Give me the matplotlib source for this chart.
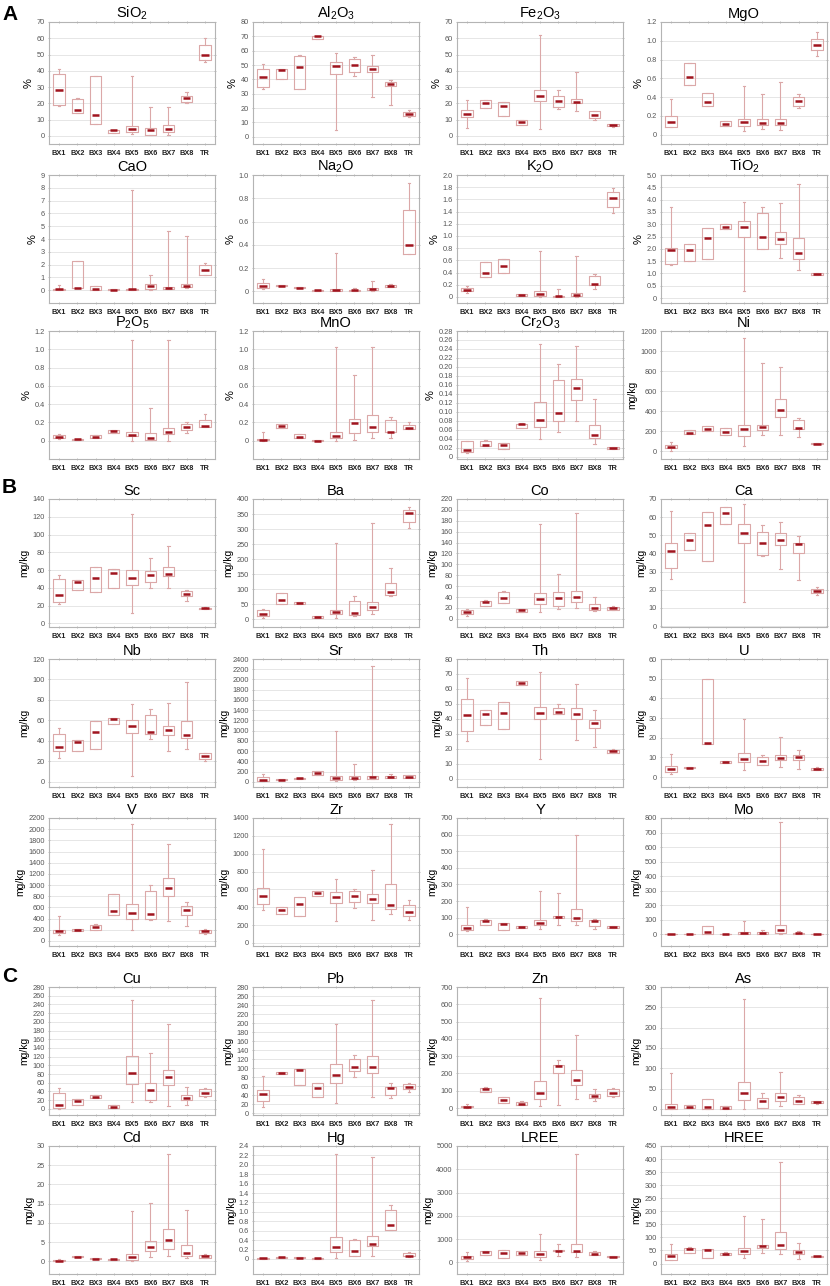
import matplotlib
matplotlib.use("Agg")
import matplotlib.pyplot as plt
import numpy as np
from matplotlib.ticker import FixedLocator, FuncFormatter

plt.rcParams['font.family'] = ['Liberation Sans', 'DejaVu Sans']
plt.rcParams['mathtext.fontset'] = 'custom'
plt.rcParams['mathtext.rm'] = 'Liberation Sans'
plt.rcParams['mathtext.it'] = 'Liberation Sans'

categories = ["BX1", "BX2", "BX3", "BX4", "BX5", "BX6", "BX7", "BX8", "TR"]

# each row: [whislo, q1, median, q3, whishi] per category
SiO2 = [[18.5, 19, 28.5, 38, 41], [14, 14, 16, 22.5, 23], [7, 7, 13, 37, 37], [1.5, 1.5, 3.5, 3.5, 3.5],
        [1, 2.5, 4.5, 6, 37], [0.5, 0.5, 3.5, 5, 17.5], [0.5, 2.5, 4.5, 6.5, 17.5], [20, 21, 23.5, 24.5, 27],
        [45.5, 46.5, 49.5, 56, 60]]
Al2O3 = [[33, 35, 41.5, 47.5, 51], [40, 40, 46.5, 47, 47], [33.5, 33.5, 48.5, 56.5, 57], [68.5, 68.5, 70, 70.5, 70.5],
         [5, 44, 49, 52, 58.5], [42.5, 45.5, 50, 54, 55.5], [27.5, 45, 47, 49.5, 57], [22, 35.5, 37, 38, 39.5],
         [14, 14.5, 16, 17.5, 18.5]]
Fe2O3 = [[5, 11.5, 13.5, 16, 22], [17, 17, 20.5, 22, 22], [12, 12, 18.5, 21, 21], [6.5, 6.5, 8.5, 9.5, 9.5],
         [4, 21.5, 24.5, 28.5, 62], [16.5, 18, 21.5, 24.5, 28.5], [15, 20, 21, 22.5, 39.5], [9.5, 11, 13, 15.5, 15.5],
         [5.5, 5.8, 6.5, 7, 7.5]]
MgO = [[0.08, 0.08, 0.13, 0.2, 0.38], [0.53, 0.53, 0.61, 0.76, 0.76], [0.3, 0.3, 0.35, 0.44, 0.44],
       [0.09, 0.09, 0.11, 0.15, 0.15], [0.04, 0.09, 0.13, 0.17, 0.52], [0.06, 0.1, 0.12, 0.17, 0.43],
       [0.05, 0.1, 0.12, 0.17, 0.56], [0.28, 0.3, 0.36, 0.4, 0.43], [0.84, 0.9, 0.96, 1.02, 1.09]]
CaO = [[0.05, 0.05, 0.08, 0.12, 0.4], [0.15, 0.15, 0.2, 2.25, 2.25], [0.05, 0.05, 0.1, 0.35, 0.35],
       [0.03, 0.03, 0.05, 0.08, 0.08], [0.05, 0.05, 0.1, 0.12, 7.8], [0.05, 0.1, 0.35, 0.5, 1.2],
       [0.1, 0.12, 0.18, 0.25, 4.65], [0.2, 0.25, 0.35, 0.5, 4.2], [1.15, 1.2, 1.6, 1.95, 2.15]]
Na2O = [[0.02, 0.03, 0.05, 0.07, 0.11], [0.045, 0.045, 0.05, 0.055, 0.055], [0.025, 0.025, 0.03, 0.04, 0.04],
        [0.005, 0.005, 0.008, 0.012, 0.012], [0.0, 0.005, 0.01, 0.02, 0.33], [0.003, 0.005, 0.008, 0.01, 0.03],
        [0.005, 0.01, 0.02, 0.03, 0.09], [0.04, 0.04, 0.05, 0.055, 0.06], [0.32, 0.32, 0.4, 0.7, 0.93]]
K2O = [[0.07, 0.1, 0.12, 0.14, 0.18], [0.32, 0.32, 0.4, 0.58, 0.58], [0.39, 0.39, 0.5, 0.62, 0.62],
       [0.01, 0.01, 0.03, 0.05, 0.05], [0.0, 0.01, 0.04, 0.09, 0.76], [0.0, 0.0, 0.01, 0.02, 0.13],
       [0.0, 0.01, 0.03, 0.07, 0.67], [0.13, 0.2, 0.21, 0.35, 0.38], [1.38, 1.47, 1.62, 1.72, 1.78]]
TiO2 = [[1.33, 1.4, 1.95, 2.02, 3.68], [1.52, 1.52, 1.95, 2.2, 2.2], [1.6, 1.6, 2.45, 2.85, 2.85],
        [2.8, 2.8, 2.9, 3.0, 3.0], [0.28, 2.47, 2.88, 3.15, 3.9], [1.98, 2.0, 2.47, 3.45, 3.7],
        [1.63, 2.2, 2.4, 2.7, 3.87], [1.15, 1.57, 1.85, 2.45, 4.65], [0.95, 0.95, 0.98, 1.02, 1.03]]
P2O5 = [[0.02, 0.025, 0.04, 0.06, 0.07], [0.01, 0.01, 0.015, 0.02, 0.02], [0.03, 0.03, 0.045, 0.06, 0.06],
        [0.08, 0.08, 0.11, 0.12, 0.12], [0.0, 0.05, 0.06, 0.09, 1.1], [0.01, 0.01, 0.03, 0.08, 0.36],
        [0.0, 0.07, 0.09, 0.14, 1.1], [0.08, 0.12, 0.15, 0.18, 0.2], [0.15, 0.15, 0.16, 0.23, 0.29]]
MnO = [[0.0, 0.005, 0.01, 0.02, 0.09], [0.14, 0.14, 0.16, 0.18, 0.18], [0.03, 0.03, 0.045, 0.07, 0.07],
       [-0.005, -0.005, 0.0, 0.005, 0.005], [0.0, 0.03, 0.05, 0.1, 1.03], [0.01, 0.08, 0.19, 0.24, 0.72],
       [0.03, 0.1, 0.15, 0.28, 1.02], [0.03, 0.09, 0.1, 0.23, 0.26], [0.13, 0.13, 0.14, 0.17, 0.2]]
Cr2O3 = [[0.008, 0.01, 0.014, 0.034, 0.035], [0.025, 0.025, 0.027, 0.036, 0.038], [0.017, 0.017, 0.026, 0.03, 0.03],
         [0.065, 0.065, 0.073, 0.074, 0.075], [0.04, 0.067, 0.081, 0.122, 0.252], [0.055, 0.08, 0.097, 0.17, 0.206],
         [0.079, 0.126, 0.152, 0.174, 0.246], [0.028, 0.042, 0.048, 0.07, 0.128], [0.017, 0.018, 0.019, 0.021, 0.022]]
Ni = [[5, 30, 45, 60, 95], [175, 175, 185, 210, 210], [200, 200, 220, 255, 255], [160, 160, 190, 230, 230],
      [50, 150, 220, 265, 1130], [160, 210, 245, 265, 880], [160, 340, 410, 520, 840], [145, 220, 235, 310, 330],
      [70, 70, 75, 85, 85]]
Sc = [[22, 24, 32, 50, 54], [38, 38, 47, 49, 49], [35, 35, 51, 63, 63], [40, 40, 57, 61, 61],
      [12, 43, 51, 60, 123], [40, 47, 55, 59, 74], [40, 53, 56, 63, 87], [25, 31, 33, 36, 38],
      [16, 16.5, 17, 17.5, 18]]
Ba = [[5, 10, 18, 30, 35], [50, 50, 63, 87, 87], [50, 50, 55, 58, 58], [6, 6, 8, 10, 10],
      [5, 18, 25, 33, 253], [12, 15, 22, 60, 77], [17, 30, 43, 57, 320], [78, 80, 92, 120, 170],
      [303, 325, 353, 365, 375]]
Co = [[5, 8, 12, 16, 18], [23, 23, 31, 33, 34], [29, 29, 39, 50, 52], [13, 13, 16, 18, 18],
      [12, 27, 36, 47, 175], [18, 23, 38, 50, 82], [20, 30, 40, 51, 195], [14, 16, 20, 27, 40],
      [16, 17, 19, 21, 23]]
Ca = [[26, 32, 41.5, 45.5, 63.5], [42, 42, 47.5, 51.5, 51.5], [36, 36, 55.5, 63, 63], [56, 56, 62.5, 65.5, 65.5],
      [13.5, 45.5, 51, 56.5, 67], [38.5, 39, 45.5, 52, 55.5], [31.5, 44.5, 47.5, 51, 57.5], [25.5, 40, 45, 45.5, 49.5],
      [17, 18, 19.5, 20.5, 21.5]]
Nb = [[23, 30, 34, 47, 53], [30, 30, 38.5, 40.5, 41], [32, 32, 49, 59.5, 59.5], [57, 57, 61, 62, 62],
      [6, 48, 55, 60, 76], [42, 47, 48.5, 65, 71], [30, 46, 50.5, 55, 77], [32, 42.5, 46, 59, 98],
      [20, 22, 25, 28, 28]]
Sr = [[15, 20, 45, 95, 145], [35, 35, 40, 50, 50], [55, 55, 70, 85, 85], [130, 130, 175, 205, 210],
      [10, 45, 85, 115, 1000], [30, 50, 70, 110, 350], [55, 60, 90, 115, 2270], [70, 75, 95, 120, 145],
      [80, 85, 105, 125, 140]]
Th = [[25.5, 32, 42.5, 53, 67], [36, 36, 43, 46, 46], [33, 33, 44, 51.5, 51.5], [62.5, 62.5, 64, 65.5, 65.5],
      [13, 40, 44, 48, 71], [43, 43, 44.5, 47.5, 50], [26, 40, 43.5, 47, 63], [21, 34, 37, 39, 46],
      [17.5, 17.5, 18.5, 19.5, 20]]
U = [[1.5, 2.5, 4, 5.5, 12], [4.5, 4.5, 4.8, 5, 5], [17, 17, 17.5, 50, 50], [7.3, 7.3, 7.7, 8, 8],
     [3.5, 7.5, 9, 12.5, 29.5], [6, 6, 8, 10, 11.5], [5, 8.5, 9.5, 11, 20.5], [4, 8.5, 10, 11.5, 14],
     [3.8, 3.8, 4, 4.5, 5]]
V = [[100, 140, 170, 200, 440], [185, 185, 200, 220, 220], [190, 190, 250, 290, 300], [470, 470, 540, 840, 840],
     [200, 400, 500, 660, 2100], [380, 400, 480, 890, 1010], [360, 800, 950, 1130, 1740], [270, 470, 550, 620, 690],
     [130, 140, 170, 200, 210]]
Zr = [[370, 440, 530, 620, 1050], [320, 320, 370, 400, 400], [305, 305, 440, 515, 515], [530, 530, 560, 580, 580],
      [250, 450, 515, 565, 720], [395, 460, 530, 585, 605], [260, 445, 495, 550, 815], [320, 385, 420, 665, 1330],
      [255, 300, 350, 420, 480]]
Y = [[18, 25, 38, 58, 163], [55, 55, 78, 88, 90], [25, 25, 60, 68, 70], [40, 40, 45, 50, 50],
     [30, 55, 70, 88, 258], [55, 100, 105, 110, 250], [55, 78, 100, 155, 600], [30, 50, 78, 85, 95],
     [40, 40, 43, 48, 50]]
Mo = [[1, 1, 2, 3, 3], [1, 1, 2, 3, 3], [5, 5, 15, 58, 60], [1, 1, 2, 3, 3],
      [1, 3, 8, 15, 95], [1, 3, 8, 15, 30], [5, 10, 30, 65, 770], [3, 5, 8, 12, 20],
      [1, 1, 2, 3, 3]]
Cu = [[0, 2, 9, 37, 48], [10, 10, 19, 22, 23], [25, 25, 27, 32, 33], [3, 3, 5, 8, 8],
      [15, 58, 83, 122, 251], [17, 20, 44, 60, 128], [7, 54, 74, 90, 194], [10, 20, 25, 31, 50],
      [28, 30, 37, 45, 48]]
Pb = [[13, 26, 42, 51, 83], [87, 87, 89, 91, 91], [62, 62, 96, 98, 98], [36, 36, 56, 66, 66],
      [22, 67, 85, 110, 197], [81, 93, 102, 120, 130], [35, 89, 103, 128, 251], [34, 41, 56, 58, 67],
      [48, 53, 58, 65, 67]]
Zn = [[3, 5, 8, 12, 22], [92, 92, 113, 118, 120], [30, 30, 45, 62, 65], [20, 20, 25, 38, 40],
      [12, 52, 88, 155, 635], [20, 200, 242, 250, 278], [52, 135, 165, 222, 425], [40, 60, 70, 80, 110],
      [65, 70, 88, 108, 118]]
As = [[0, 0, 5, 13, 88], [1, 1, 4, 9, 10], [0, 0, 4, 24, 25], [0, 0, 3, 6, 6],
      [0, 21, 38, 66, 270], [2, 2, 20, 27, 38], [8, 20, 29, 40, 92], [13, 13, 20, 30, 35],
      [13, 14, 17, 19, 20]]
Cd = [[0.05, 0.1, 0.2, 0.4, 0.6], [1.0, 1.0, 1.2, 1.4, 1.4], [0.6, 0.6, 0.7, 0.8, 0.8], [0.4, 0.4, 0.55, 0.7, 0.7],
      [0.1, 0.4, 1.0, 1.8, 13.2], [1.1, 2.7, 3.8, 5.3, 15.2], [1.4, 3.2, 5.6, 8.4, 27.8], [0.8, 1.5, 2.2, 4.3, 13.3],
      [0.8, 0.8, 1.3, 1.7, 1.8]]
Hg = [[0.0, 0.005, 0.01, 0.02, 0.03], [0.01, 0.01, 0.04, 0.05, 0.05], [0.01, 0.01, 0.02, 0.035, 0.04],
      [0.005, 0.005, 0.01, 0.02, 0.02], [0.02, 0.15, 0.25, 0.47, 2.23], [0.06, 0.07, 0.17, 0.41, 0.42],
      [0.07, 0.27, 0.32, 0.48, 2.17], [0.62, 0.62, 0.72, 1.03, 1.14], [0.05, 0.06, 0.07, 0.13, 0.15]]
LREE = [[70, 160, 230, 280, 430], [320, 320, 440, 480, 500], [200, 200, 400, 520, 530], [320, 320, 400, 480, 490],
        [100, 250, 380, 470, 1240], [280, 470, 500, 510, 790], [240, 430, 490, 790, 4670], [300, 320, 380, 430, 500],
        [230, 230, 250, 270, 280]]
HREE = [[12, 15, 30, 35, 75], [40, 40, 57, 60, 62], [20, 20, 52, 54, 55], [33, 33, 38, 42, 43],
        [20, 38, 48, 58, 183], [40, 58, 68, 72, 172], [35, 55, 70, 120, 388], [17, 35, 45, 52, 77],
        [25, 25, 27, 29, 30]]

# panel specs: title, ylabel, data, ylim, tick step, decimals
panels = [
    ("SiO$_2$", "%", SiO2, (-5, 70), 10, 0),
    ("Al$_2$O$_3$", "%", Al2O3, (-5, 80), 10, 0),
    ("Fe$_2$O$_3$", "%", Fe2O3, (-5, 70), 10, 0),
    ("MgO", "%", MgO, (-0.1, 1.2), 0.2, 1),
    ("CaO", "%", CaO, (-1, 9), 1, 0),
    ("Na$_2$O", "%", Na2O, (-0.1, 1.0), 0.2, 1),
    ("K$_2$O", "%", K2O, (-0.1, 2.0), 0.2, 1),
    ("TiO$_2$", "%", TiO2, (-0.2, 5.0), 0.5, 1),
    ("P$_2$O$_5$", "%", P2O5, (-0.2, 1.2), 0.2, 1),
    ("MnO", "%", MnO, (-0.2, 1.2), 0.2, 1),
    ("Cr$_2$O$_3$", "%", Cr2O3, (-0.005, 0.28), 0.02, 2),
    ("Ni", "mg/kg", Ni, (-75, 1200), 200, 0),
    ("Sc", "mg/kg", Sc, (-4, 140), 20, 0),
    ("Ba", "mg/kg", Ba, (-25, 400), 50, 0),
    ("Co", "mg/kg", Co, (-15, 220), 20, 0),
    ("Ca", "mg/kg", Ca, (-0.5, 70), 10, 0),
    ("Nb", "mg/kg", Nb, (-5, 120), 20, 0),
    ("Sr", "mg/kg", Sr, (-100, 2400), 200, 0),
    ("Th", "mg/kg", Th, (-5.5, 80), 10, 0),
    ("U", "mg/kg", U, (-5, 60), 10, 0),
    ("V", "mg/kg", V, (-90, 2200), 200, 0),
    ("Zr", "mg/kg", Zr, (-35, 1400), 200, 0),
    ("Y", "mg/kg", Y, (-70, 700), 100, 0),
    ("Mo", "mg/kg", Mo, (-80, 800), 100, 0),
    ("Cu", "mg/kg", Cu, (-14, 280), 20, 0),
    ("Pb", "mg/kg", Pb, (-4, 280), 20, 0),
    ("Zn", "mg/kg", Zn, (-40, 700), 100, 0),
    ("As", "mg/kg", As, (-15, 300), 50, 0),
    ("Cd", "mg/kg", Cd, (-3.3, 30), 5, 0),
    ("Hg", "mg/kg", Hg, (-0.32, 2.4), 0.2, 1),
    ("LREE", "mg/kg", LREE, (-500, 5000), 1000, 0),
    ("HREE", "mg/kg", HREE, (-40, 450), 50, 0),
]

W, H = 830, 1286
fig = plt.figure(figsize=(W / 100, H / 100), dpi=100)

col_lefts = [49, 253, 457, 661]
row_tops = [22, 175, 331, 499, 659, 818, 987, 1146]
row_heights = [122, 128, 128, 128, 128, 128, 128, 128]
axw = 166

box_col = "#dba8a8"
med_col = "#a0141e"
frame_col = "#b4b4b4"


def make_fmt(dec):
    def f(v, pos):
        if abs(v) < 1e-12:
            return "0"
        return f"{v:.{dec}f}"
    return FuncFormatter(f)


for idx, (title, ylab, data, ylim, step, dec) in enumerate(panels):
    r, c = divmod(idx, 4)
    l = col_lefts[c]
    t = row_tops[r]
    axh = row_heights[r]
    ax = fig.add_axes([l / W, 1 - (t + axh) / H, axw / W, axh / H])
    stats = []
    for name, (lo, q1, med, q3, hi) in zip(categories, data):
        stats.append(dict(label=name, whislo=lo, q1=q1, med=med, q3=q3, whishi=hi, fliers=[]))
    pos = list(range(1, len(categories) + 1))
    ax.bxp(stats, positions=pos, widths=0.62, showfliers=False, capwidths=0.16,
           boxprops=dict(color=box_col, linewidth=0.8),
           whiskerprops=dict(color=box_col, linewidth=0.8),
           capprops=dict(color=box_col, linewidth=0.8),
           medianprops=dict(linewidth=0))
    meds = [d[2] for d in data]
    ax.hlines(meds, [p - 0.2 for p in pos], [p + 0.2 for p in pos], colors=med_col, linewidth=1.8, zorder=5)
    ax.set_xlim(0.45, 9.55)
    ax.set_ylim(*ylim)
    nt = int(round(ylim[1] / step))
    ax.yaxis.set_major_locator(FixedLocator([i * step for i in range(nt + 1)]))
    ax.yaxis.set_major_formatter(make_fmt(dec))
    ax.grid(axis='y', color="#e6e6e6", linewidth=0.7)
    ax.set_axisbelow(True)
    for s in ax.spines.values():
        s.set_color(frame_col)
        s.set_linewidth(0.8)
    ax.tick_params(axis='y', labelsize=5.3, labelcolor="#555555", color=frame_col,
                   length=2, width=0.6, direction='inout', right=True, pad=2)
    ax.tick_params(axis='x', labelsize=5.3, labelcolor="#222222", color=frame_col,
                   length=2, width=0.6, direction='inout', top=True, pad=3)
    for lbl in ax.get_xticklabels():
        lbl.set_fontweight('bold')
    ax.set_title(title, fontsize=10.5, pad=3)
    ax.set_ylabel(ylab, fontsize=8 if ylab == "%" else 7.5, labelpad=2)

fig.text(2 / W, 1 - 14 / H, "A", fontsize=15, fontweight='bold', va='center', ha='left')
fig.text(2 / W, 1 - 487 / H, "B", fontsize=15, fontweight='bold', va='center', ha='left')
fig.text(2 / W, 1 - 977 / H, "C", fontsize=15, fontweight='bold', va='center', ha='left')

fig.savefig("out.png", dpi=100)
